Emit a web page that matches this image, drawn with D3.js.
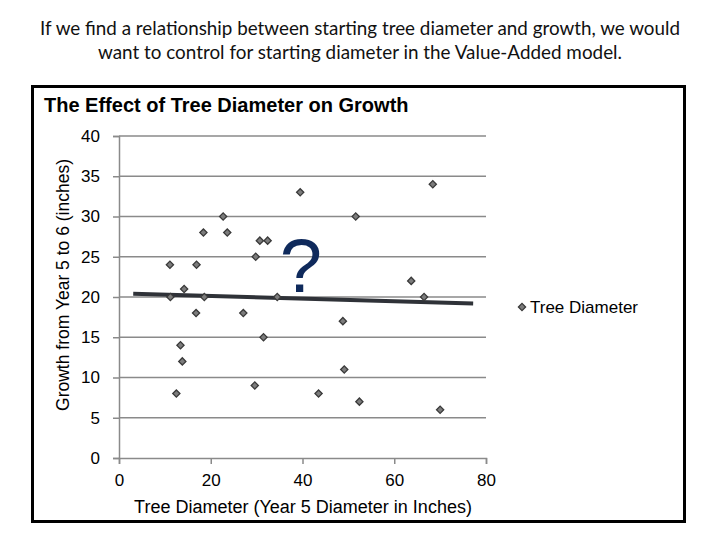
<!DOCTYPE html>
<html>
<head>
<meta charset="utf-8">
<script src="https://cdn.jsdelivr.net/npm/d3@7"></script>
<style>
  body { margin: 0; background: #fff; }
  svg { display: block; }
</style>
</head>
<body>
<div id="chart"></div>
<script>
// Данные: начальный диаметр (x) и прирост (y)
const diameter = [11.1, 14.2, 11.2, 16.9, 18.4, 18.6, 16.8, 22.7, 23.6, 27.1,
                  29.8, 30.7, 32.4, 34.5, 39.5, 48.8, 51.6, 63.7, 66.5, 68.4,
                  13.4, 13.8, 12.5, 31.5, 29.6, 49.1, 43.5, 52.4, 70.0];
const growth   = [24, 21, 20, 24, 28, 20, 18, 30, 28, 18,
                  25, 27, 27, 20, 33, 17, 30, 22, 20, 34,
                  14, 12, 8, 15, 9, 11, 8, 7, 6];
// Линия тренда (концы, как на картинке)
const trendX = [3.1, 77.2];
const trendY = [20.4, 19.2];
const xTicks = [0, 20, 40, 60, 80];
const yTicks = [0, 5, 10, 15, 20, 25, 30, 35, 40];

const width = 720, height = 540;
const svg = d3.select("#chart").append("svg")
    .attr("width", width)
    .attr("height", height);

// Заголовок слайда
const heading = [
    {text: "If we find a relationship between starting tree diameter and growth, we would", w: 640},
    {text: "want to control for starting diameter in the Value-Added model.", w: 524}
];
svg.append("g").selectAll("text")
    .data(heading)
    .enter()
    .append("text")
    .attr("x", 360)
    .attr("y", (d, i) => 35 + i * 24)
    .attr("text-anchor", "middle")
    .attr("font-family", "Lato, 'Open Sans', sans-serif")
    .attr("font-size", "19px")
    .attr("textLength", d => d.w)
    .attr("lengthAdjust", "spacingAndGlyphs")
    .attr("fill", "#111")
    .text(d => d.text);

// Рамка диаграммы
svg.append("rect")
    .attr("x", 32.5).attr("y", 86.5)
    .attr("width", 652).attr("height", 435)
    .attr("fill", "#fff")
    .attr("stroke", "#000")
    .attr("stroke-width", 3);

const font = "'Liberation Sans', Arial, sans-serif";

svg.append("text")
    .attr("x", 44).attr("y", 112)
    .attr("font-family", font)
    .attr("font-weight", "bold")
    .attr("font-size", "20px")
    .attr("fill", "#000")
    .text("The Effect of Tree Diameter on Growth");

const x = d3.scaleLinear().domain([0, 80]).range([119, 486]);
const y = d3.scaleLinear().domain([0, 40]).range([458, 136]);
const axisColor = "#8a8a8a";

// Сетка
svg.append("g").selectAll("line")
    .data(yTicks.filter(d => d > 0))
    .enter()
    .append("line")
    .attr("x1", x(0)).attr("x2", x(80))
    .attr("y1", d => y(d)).attr("y2", d => y(d))
    .attr("stroke", axisColor)
    .attr("stroke-width", 1.5);

// Оси
const yAxis = svg.append("g")
    .attr("transform", `translate(${x(0)},0)`)
    .call(d3.axisLeft(y).tickValues(yTicks).tickSize(6).tickPadding(13));
const xAxis = svg.append("g")
    .attr("transform", `translate(0,${y(0)})`)
    .call(d3.axisBottom(x).tickValues(xTicks).tickSize(6).tickPadding(10));

[xAxis, yAxis].forEach(ax => {
    ax.select(".domain").attr("stroke", axisColor).attr("stroke-width", 1.5);
    ax.selectAll(".tick line").attr("stroke", axisColor).attr("stroke-width", 1.5);
    ax.selectAll(".tick text")
        .attr("font-family", font)
        .attr("font-size", "17px")
        .attr("fill", "#000");
});

// Подписи осей
svg.append("text")
    .attr("x", 303).attr("y", 513)
    .attr("text-anchor", "middle")
    .attr("font-family", font)
    .attr("font-size", "18px")
    .text("Tree Diameter (Year 5 Diameter in Inches)");

svg.append("text")
    .attr("transform", `translate(69,${(150 + 420) / 2}) rotate(-90)`)
    .attr("text-anchor", "middle")
    .attr("font-family", font)
    .attr("font-size", "17.5px")
    .text("Growth from Year 5 to 6 (inches)");

// Линия тренда
svg.append("line")
    .attr("x1", x(trendX[0])).attr("y1", y(trendY[0]))
    .attr("x2", x(trendX[1])).attr("y2", y(trendY[1]))
    .attr("stroke", "#2f3238")
    .attr("stroke-width", 4);

// Вопросительный знак
svg.append("text")
    .attr("x", 301).attr("y", 292)
    .attr("text-anchor", "middle")
    .attr("font-family", font)
    .attr("font-size", "76px")
    .attr("fill", "#0f2a5c")
    .text("?");

// Точки — ромбы (повёрнутый квадрат)
const diamond = d3.symbol().type(d3.symbolSquare).size(26);
const points = diameter.map((d, i) => ({x: d, y: growth[i]}));
svg.append("g").selectAll("path")
    .data(points)
    .enter()
    .append("path")
    .attr("d", diamond)
    .attr("transform", d => `translate(${x(d.x)},${y(d.y)}) rotate(45)`)
    .attr("fill", "#7c7c7c")
    .attr("stroke", "#3a3a3a")
    .attr("stroke-width", 1.3);

// Легенда
svg.append("path")
    .attr("d", diamond)
    .attr("transform", "translate(522,307) rotate(45)")
    .attr("fill", "#7c7c7c")
    .attr("stroke", "#3a3a3a")
    .attr("stroke-width", 1.3);
svg.append("text")
    .attr("x", 530).attr("y", 313)
    .attr("font-family", font)
    .attr("font-size", "17px")
    .text("Tree Diameter");
</script>
</body>
</html>
